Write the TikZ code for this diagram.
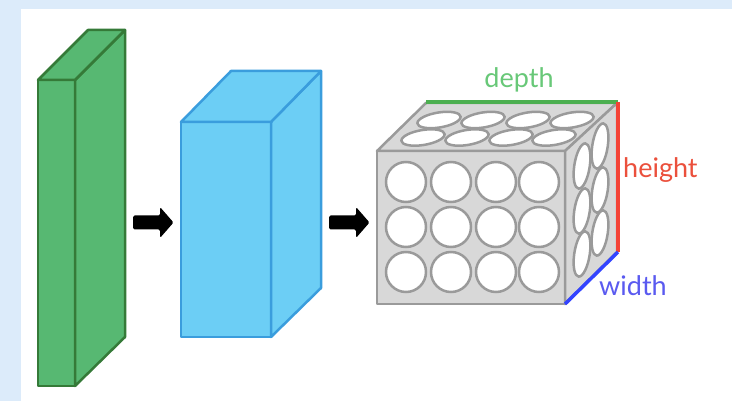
\documentclass[tikz,border=0pt]{standalone}
\usepackage{fontspec}
\setmainfont{Lato}
\definecolor{bgblue}{HTML}{DCEBFA}
\definecolor{gfill}{HTML}{57B872}
\definecolor{gline}{HTML}{357A38}
\definecolor{bfill}{HTML}{6CCEF5}
\definecolor{bline}{HTML}{3A9DDD}
\definecolor{cfill}{HTML}{D8D8D8}
\definecolor{cline}{HTML}{9A9A9A}
\definecolor{depthc}{HTML}{68C878}
\definecolor{heightc}{HTML}{EB503C}
\definecolor{widthc}{HTML}{5A5AF0}
\definecolor{dline}{HTML}{4CAF50}
\definecolor{hline}{HTML}{F44336}
\definecolor{wline}{HTML}{3344FF}
\begin{document}
\begin{tikzpicture}[x=1pt,y=-1pt,
  greenbox/.style={fill=gfill,draw=gline,line width=2.5pt,line join=round},
  bluebox/.style={fill=bfill,draw=bline,line width=2.5pt,line join=round},
  cubeface/.style={fill=cfill,draw=cline,line width=2.5pt,line join=round},
  hole/.style={fill=white,draw=cline,line width=2.5pt},
  arrowshape/.style={fill=black,rounded corners=1.5pt},
  lbl/.style={inner sep=0pt,font=\fontsize{27}{32}\selectfont},
  edge/.style={line width=3.5pt}]
\useasboundingbox (0,0) rectangle (732,401);
\fill[bgblue] (0,0) rectangle (732,401);
\fill[white] (21,9) rectangle (732,401);
% green slab
\coordinate (g1) at (38,80); \coordinate (g2) at (75,80);
\coordinate (g3) at (75,386); \coordinate (g4) at (38,386);
\coordinate (g5) at (88,30); \coordinate (g6) at (125,30);
\coordinate (g7) at (125,337);
\draw[greenbox] (g1) -- (g2) -- (g3) -- (g4) -- cycle;
\draw[greenbox] (g2) -- (g6) -- (g7) -- (g3) -- cycle;
\draw[greenbox] (g1) -- (g5) -- (g6) -- (g2) -- cycle;
% blue box
\coordinate (b1) at (181,122); \coordinate (b2) at (271,122);
\coordinate (b3) at (271,337); \coordinate (b4) at (181,337);
\coordinate (b5) at (231,71); \coordinate (b6) at (321,71);
\coordinate (b7) at (321,288);
\draw[bluebox] (b1) -- (b2) -- (b3) -- (b4) -- cycle;
\draw[bluebox] (b2) -- (b6) -- (b7) -- (b3) -- cycle;
\draw[bluebox] (b1) -- (b5) -- (b6) -- (b2) -- cycle;
% arrows
\fill[arrowshape] (133,215.5) -- (160,215.5) -- (160,207) -- (173.5,222.5) -- (160,238) -- (160,229.5) -- (133,229.5) -- cycle;
\fill[arrowshape] (329,215.5) -- (356,215.5) -- (356,207) -- (369.5,222.5) -- (356,238) -- (356,229.5) -- (329,229.5) -- cycle;
% cube
\coordinate (c1) at (377,151); \coordinate (c2) at (565,151);
\coordinate (c3) at (565,304); \coordinate (c4) at (377,304);
\coordinate (c5) at (426,103); \coordinate (c6) at (617,103);
\coordinate (c7) at (617,252);
\draw[cubeface] (c1) -- (c2) -- (c3) -- (c4) -- cycle;
\draw[cubeface] (c1) -- (c5) -- (c6) -- (c2) -- cycle;
\draw[cubeface] (c2) -- (c6) -- (c7) -- (c3) -- cycle;
% front holes
\foreach \x in {406,451,496,539} {
  \foreach \y in {182,227,272} {
    \draw[hole] (\x,\y) circle[radius=20];
  }
}
% top holes
\foreach \x in {439,483,528,572} {
  \draw[hole,shift={(\x,120)},xslant=1,yscale=0.41] (0,0) circle[radius=20];
}
\foreach \x in {423,467,511,554} {
  \draw[hole,shift={(\x,137.5)},xslant=1,yscale=0.41] (0,0) circle[radius=20];
}
% side holes
\foreach \y in {146,190,233} {
  \draw[hole,shift={(600,\y)},yslant=1,xscale=0.4] (0,0) circle[radius=21];
}
\foreach \y in {166,211,254} {
  \draw[hole,shift={(582,\y)},yslant=1,xscale=0.4] (0,0) circle[radius=21];
}
% coloured edges
\coordinate (d1) at (426,102); \coordinate (d2) at (618,102);
\coordinate (h2) at (618,252);
\coordinate (w2) at (565,304);
\draw[edge,dline] (d1) -- (d2);
\draw[edge,hline] (d2) -- (h2);
\draw[edge,wline] (h2) -- (w2);
% labels
\node[lbl,anchor=base,text=depthc] (depth) at (519,88) {depth};
\node[lbl,anchor=base west,text=heightc] (height) at (623,178) {height};
\node[lbl,anchor=base west,text=widthc] (width) at (599,295) {width};
\end{tikzpicture}
\end{document}
